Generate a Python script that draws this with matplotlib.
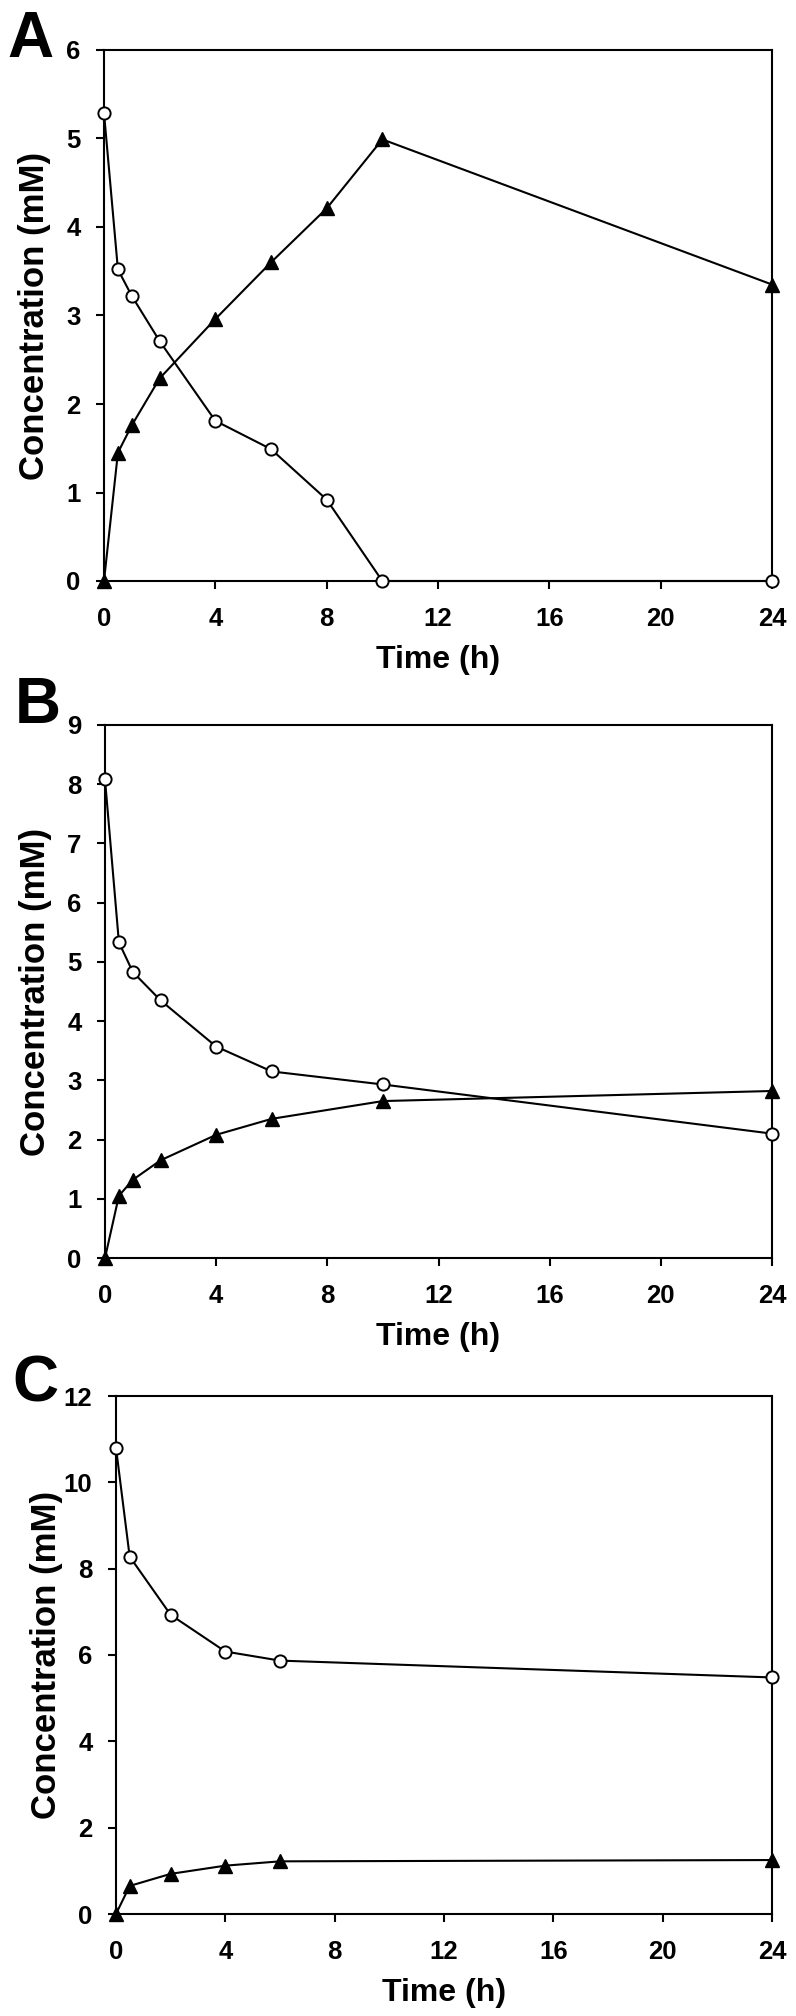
import matplotlib
matplotlib.use('Agg')
import matplotlib.pyplot as plt

plt.rcParams['font.family'] = ['Liberation Sans', 'DejaVu Sans']
plt.rcParams['font.weight'] = 'bold'

# Panel A
time_A = [0, 0.5, 1, 2, 4, 6, 8, 10, 24]
circ_A = [5.29, 3.52, 3.22, 2.71, 1.81, 1.49, 0.92, 0, 0]
tri_A = [0, 1.45, 1.76, 2.29, 2.96, 3.6, 4.21, 4.99, 3.35]

# Panel B
time_B = [0, 0.5, 1, 2, 4, 6, 10, 24]
circ_B = [8.08, 5.33, 4.83, 4.35, 3.57, 3.15, 2.93, 2.1]
tri_B = [0, 1.05, 1.32, 1.65, 2.08, 2.35, 2.65, 2.82]

# Panel C
time_C = [0, 0.5, 2, 4, 6, 24]
circ_C = [10.8, 8.28, 6.93, 6.08, 5.87, 5.48]
tri_C = [0, 0.65, 0.93, 1.12, 1.22, 1.25]

xticks = [0, 4, 8, 12, 16, 20, 24]
yticks_A = [0, 1, 2, 3, 4, 5, 6]
yticks_B = [0, 1, 2, 3, 4, 5, 6, 7, 8, 9]
yticks_C = [0, 2, 4, 6, 8, 10, 12]

tick_fs = 18.5
label_fs = 23
ylabel_fs = 25
letter_fs = 46
lw = 1.5
msize_c = 8.8
msize_t = 10.5

W, H = 796, 2016
fig = plt.figure(figsize=(W / 100, H / 100), dpi=100)

# axes boxes in pixels: left, top, right, bottom
boxes = [(104, 50, 772, 581), (105, 725, 772, 1258), (116, 1396, 772, 1914)]
panels = [(time_A, circ_A, tri_A, yticks_A, 'A', (7, 57)),
          (time_B, circ_B, tri_B, yticks_B, 'B', (15, 723)),
          (time_C, circ_C, tri_C, yticks_C, 'C', (12, 1402))]

for (l, t, r, b), (tx, yc, yt, yticks, letter, lpos) in zip(boxes, panels):
    ax = fig.add_axes([l / W, 1 - b / H, (r - l) / W, (b - t) / H])
    ax.plot(tx, yt, '-', color='black', lw=lw, marker='^', markersize=msize_t,
            markerfacecolor='black', markeredgecolor='black', clip_on=False, zorder=3)
    ax.plot(tx, yc, '-', color='black', lw=lw, marker='o', markersize=msize_c,
            markerfacecolor='white', markeredgecolor='black', markeredgewidth=1.4,
            clip_on=False, zorder=4)
    ax.set_xlim(0, 24)
    ax.set_ylim(yticks[0], yticks[-1])
    ax.set_xticks(xticks)
    ax.set_yticks(yticks)
    for sp in ax.spines.values():
        sp.set_linewidth(lw)
    ax.tick_params(axis='x', direction='out', length=6, width=lw, pad=13, labelsize=tick_fs)
    ax.tick_params(axis='y', direction='out', length=6, width=lw, pad=11, labelsize=tick_fs)
    ax.set_xlabel('Time (h)', fontsize=label_fs, fontweight='bold')
    ax.xaxis.set_label_coords(0.5, -64 / (b - t))
    ax.set_ylabel('Concentration (mM)', fontsize=ylabel_fs, fontweight='bold')
    ax.yaxis.set_label_coords(-53 / (r - l), 0.5)
    fig.text(lpos[0] / W, 1 - lpos[1] / H, letter, fontsize=letter_fs,
             fontweight='bold', ha='left', va='baseline')

fig.savefig('out.png', dpi=100)
